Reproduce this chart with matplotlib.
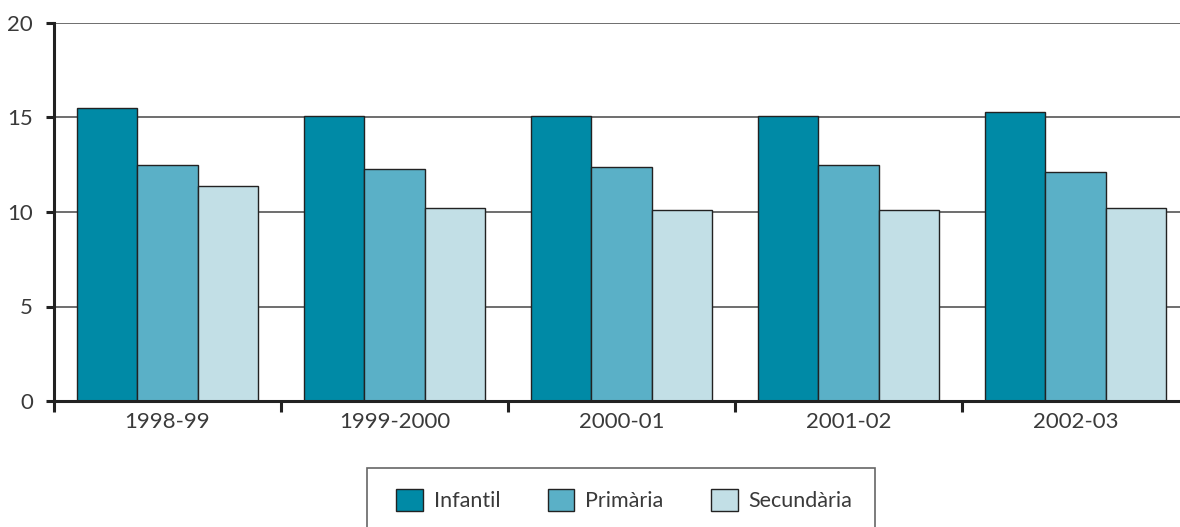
import matplotlib
matplotlib.use("Agg")
import matplotlib.pyplot as plt
from matplotlib.patches import Rectangle
import numpy as np

categories = ["1998-99", "1999-2000", "2000-01", "2001-02", "2002-03"]
series_names = ["Infantil", "Primària", "Secundària"]
infantil = [15.5, 15.1, 15.1, 15.1, 15.3]
primaria = [12.5, 12.3, 12.4, 12.5, 12.1]
secundaria = [11.4, 10.2, 10.1, 10.1, 10.2]
colors = ["#008aa6", "#5ab0c7", "#c2dfe6"]
y_ticks = [0, 5, 10, 15, 20]

plt.rcParams['font.family'] = ['Lato', 'DejaVu Sans']
FS = 16
W, H = 1180, 527
fig = plt.figure(figsize=(W / 100, H / 100), dpi=100)
ax = fig.add_axes([54 / W, 1 - 401 / H, 1 - 54 / W, (401 - 23) / H])

x = np.arange(len(categories))
bw = 0.8 / 3
handles = []
for i, (vals, c, name) in enumerate(zip([infantil, primaria, secundaria], colors, series_names)):
    b = ax.bar(x + (i - 1) * bw, vals, width=bw, color=c, edgecolor="#222222",
               linewidth=1.0, label=name, zorder=3)
    handles.append(b)

ax.set_ylim(0, 20)
ax.set_xlim(-0.5, 4.46)
ax.set_yticks(y_ticks)
ax.set_yticklabels([str(v) for v in y_ticks])
ax.yaxis.grid(True, color="#555555", linewidth=1.2, zorder=0)
ax.set_axisbelow(True)

ax.set_xticks(x)
ax.set_xticklabels(categories)
ax.set_xticks(np.arange(-0.5, 4.0, 1.0), minor=True)
ax.tick_params(axis="x", which="major", length=0, pad=8, labelsize=FS, labelcolor="#3a3a3a")
ax.tick_params(axis="x", which="minor", length=8, width=2.2, color="#222222", direction="out")
ax.tick_params(axis="y", which="major", length=6, width=2.2, color="#222222", pad=9,
               labelsize=FS, labelcolor="#3a3a3a")

for s in ["top", "right"]:
    ax.spines[s].set_visible(False)
for s in ["left", "bottom"]:
    ax.spines[s].set_linewidth(2.2)
    ax.spines[s].set_color("#222222")
    ax.spines[s].set_zorder(4)

# legend box
fig.patches.append(Rectangle((367 / W, 1 - 560 / H), (875 - 367) / W, (560 - 468) / H,
                             transform=fig.transFigure, facecolor="white",
                             edgecolor="#666666", linewidth=1.2))
LFS = 15.5
leg = fig.legend(handles=handles, labels=series_names, loc="center left",
                 bbox_to_anchor=(396 / W, 1 - 500 / H), ncol=3, frameon=False,
                 fontsize=LFS, handlelength=1.25, handleheight=1.25, handletextpad=0.5,
                 columnspacing=2.2, borderpad=0, borderaxespad=0)
for t in leg.get_texts():
    t.set_color("#3a3a3a")

fig.savefig("out.png", dpi=100)
